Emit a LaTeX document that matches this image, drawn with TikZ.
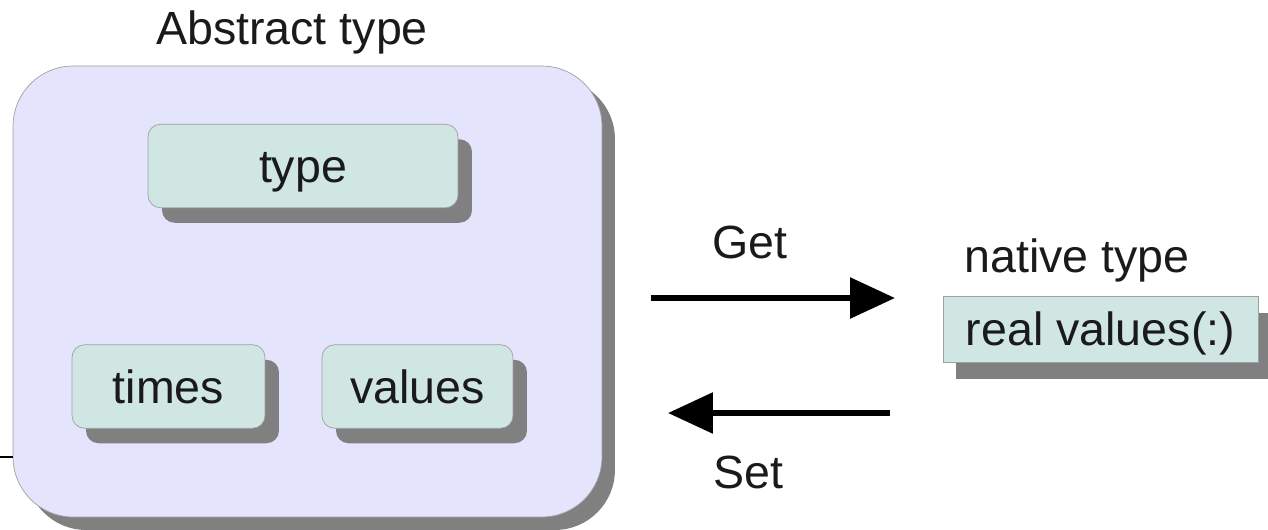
\documentclass[tikz,border=0pt]{standalone}
\usepackage{fontspec}
\setmainfont{Liberation Sans}
\usetikzlibrary{arrows.meta,positioning,calc,shadows}
\definecolor{cOuter}{HTML}{E4E4FC}
\definecolor{cField}{HTML}{CFE6E3}
\definecolor{cShadow}{HTML}{808080}
\definecolor{cEdge}{HTML}{A0A0A0}
\definecolor{cText}{HTML}{1A1A1A}
\tikzset{
  >={Triangle[length=0.9cm, width=0.8cm]},
  bigfont/.style={font=\fontsize{26.5}{30}\selectfont, text=cText},
  outerbox/.style={draw=cEdge, fill=cOuter, rounded corners=1.2cm,
                   minimum width=11.78cm, minimum height=9.02cm,
                   drop shadow={shadow xshift=0.26cm, shadow yshift=-0.26cm,
                                fill=cShadow, opacity=1}},
  fieldbox/.style={draw=cEdge, fill=cField, rounded corners=0.25cm, bigfont,
                   minimum height=1.67cm, inner sep=0pt,
                   text height=19pt, text depth=0pt,
                   drop shadow={shadow xshift=0.28cm, shadow yshift=-0.3cm,
                                fill=cShadow, opacity=1}},
  nativebox/.style={draw=cEdge, fill=cField, bigfont,
                    minimum width=6.3cm, minimum height=1.32cm, inner sep=0pt,
                    text height=19pt, text depth=0pt,
                    drop shadow={shadow xshift=0.26cm, shadow yshift=-0.33cm,
                                 fill=cShadow, opacity=1}},
  lbl/.style={bigfont, inner sep=0pt},
  arr/.style={->, line width=3.4pt},
}

\begin{document}
\begin{tikzpicture}[x=0.02cm, y=-0.02cm]
    \useasboundingbox (0,0) rectangle (1268,529);
    % abstract type and its fields
    \node[lbl] (abstitle) at (292,32) {Abstract type};
    \node[outerbox] (abstract) at (307.5,291.5) {};
    \node[fieldbox, minimum width=6.2cm] (type) at (303,166) {type};
    \node[fieldbox, minimum width=3.86cm] (times) at (168.5,386.5) {times};
    \node[fieldbox, minimum width=3.82cm] (values) at (417.5,386.5) {values};
    % native side
    \node[lbl] (nattitle) at (1077,260) {native type};
    \node[nativebox] (native) at (1100.5,329) {real values(:)};
    % get / set
    \coordinate (getA) at (651,298);
    \coordinate (getB) at (895,298);
    \coordinate (setA) at (890,413);
    \coordinate (setB) at (668,413);
    \draw[arr] (getA) -- (getB);
    \draw[arr] (setA) -- (setB);
    \node[lbl] (get) at (750,242) {Get};
    \node[lbl] (set) at (748,472) {Set};
    % stub on the left
    \coordinate (stub) at (0,457);
    \draw[line width=1.2pt] (stub) -- (stub -| abstract.west);
\end{tikzpicture}
\end{document}
